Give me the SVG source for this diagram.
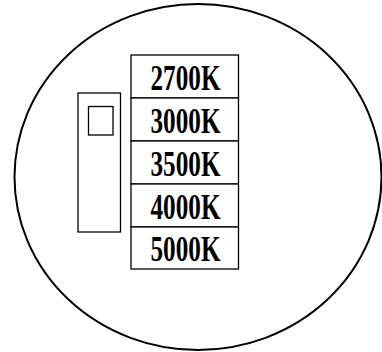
<svg xmlns="http://www.w3.org/2000/svg" width="382" height="352" viewBox="0 0 382 352">
<style>
.ln{fill:#fff;stroke:#000;stroke-width:1.3}
.t{font-family:"Liberation Serif","Times New Roman",serif;font-weight:bold;font-size:35px;fill:#000;text-anchor:middle}
</style>
<rect width="382" height="352" fill="#fff"/>
<g id="outline"><ellipse cx="198" cy="177" rx="183.5" ry="173" fill="#fff" stroke="#000" stroke-width="2"/></g>
<g id="switch">
<rect class="ln" x="78" y="93" width="42.5" height="139"/>
<rect class="ln" x="88.5" y="106.5" width="24.5" height="28.5"/>
</g>
<g id="r2700"><rect class="ln" x="131" y="55" width="107.5" height="43"/><text class="t" x="185.5" y="89.5" textLength="70" lengthAdjust="spacingAndGlyphs">2700K</text></g>
<g id="r3000"><rect class="ln" x="131" y="98" width="107.5" height="43"/><text class="t" x="185.5" y="133" textLength="70" lengthAdjust="spacingAndGlyphs">3000K</text></g>
<g id="r3500"><rect class="ln" x="131" y="141" width="107.5" height="43"/><text class="t" x="185.5" y="176" textLength="70" lengthAdjust="spacingAndGlyphs">3500K</text></g>
<g id="r4000"><rect class="ln" x="131" y="184" width="107.5" height="43"/><text class="t" x="185.5" y="219" textLength="70" lengthAdjust="spacingAndGlyphs">4000K</text></g>
<g id="r5000"><rect class="ln" x="131" y="227" width="107.5" height="42"/><text class="t" x="185.5" y="261" textLength="70" lengthAdjust="spacingAndGlyphs">5000K</text></g>
<g id="connectors"></g>
</svg>
